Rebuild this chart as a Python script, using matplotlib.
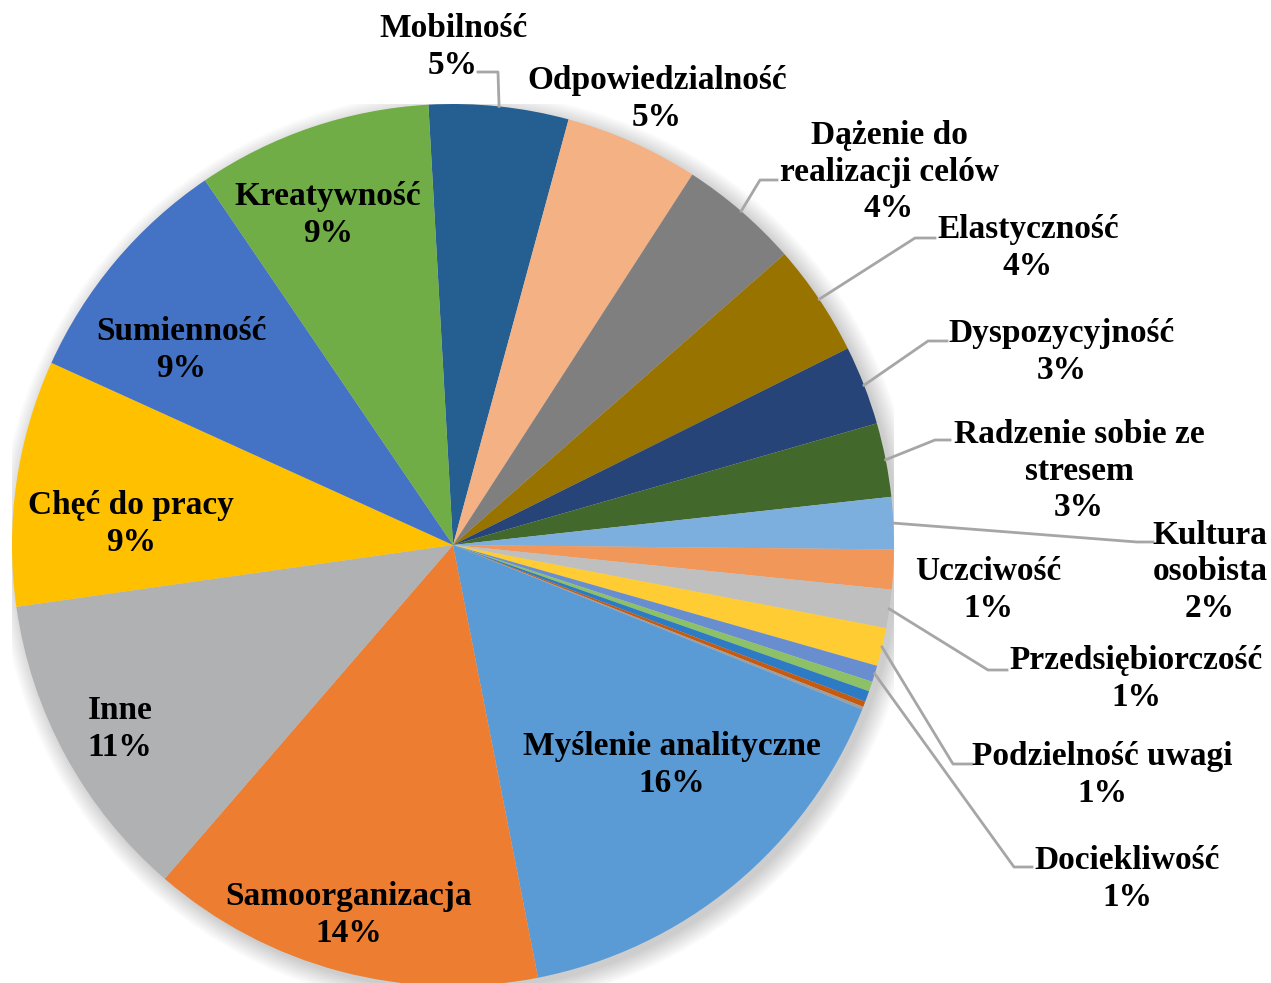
import matplotlib
matplotlib.use("Agg")
import numpy as np
import matplotlib.pyplot as plt
from matplotlib.patches import Circle

# dane: udział kompetencji (%), kolejność zgodnie z ruchem wskazówek zegara
names = ["Mobilność", "Odpowiedzialność", "Dążenie do\nrealizacji celów",
         "Elastyczność", "Dyspozycyjność", "Radzenie sobie ze\nstresem",
         "Kultura\nosobista", "Uczciwość", "Przedsiębiorczość",
         "Podzielność uwagi", "Dociekliwość", "", "", "", "",
         "Myślenie analityczne", "Samoorganizacja", "Inne",
         "Chęć do pracy", "Sumienność", "Kreatywność"]
values = [5.1, 4.9, 4.4, 4.1, 2.9, 2.7, 1.9, 1.45, 1.4, 1.4, 0.6,
          0.36, 0.4, 0.2, 0.1, 15.8, 14.4, 11.4, 9.0, 8.7, 8.6]
colors = ["#255E91", "#F4B183", "#7F7F7F", "#997300", "#264478", "#43682B",
          "#7CAFDD", "#F1975A", "#BFBFBF", "#FFCD33", "#698ED0", "#8CC168",
          "#2E7BC5", "#C55A11", "#9E9E9E", "#5B9BD5", "#ED7D31", "#B0B1B3",
          "#FFC000", "#4472C4", "#70AD47"]

# położenie etykiet w pikselach (środek bloku tekstu), łamane linii odniesienia
label_pos = [(453, 47), (657, 99), (889, 172), (1028, 248), (1062, 352),
             (1079, 471), (1210, 572), (988, 590), (1136, 679), (1102, 775),
             (1127, 879), None, None, None, None, (672, 765), (349, 915),
             (120, 729), (131, 524), (181, 350), (328, 215)]
leaders = {0: [(498, 72), (478, 72)], 2: [(760, 180), (777, 180)],
           3: [(915, 238), (935, 238)], 4: [(928, 341), (947, 341)],
           5: [(935, 440), (950, 440)], 6: [(1137, 542), (1153, 542)],
           8: [(988, 670), (1007, 670)], 9: [(953, 764), (972, 764)],
           10: [(1014, 867), (1032, 867)]}

W, H = 1271, 983
CX, CY, R = 453, 545, 441
START = 93.2


def px(x, y):
    return (x - CX) / R, (CY - y) / R


fig = plt.figure(figsize=(W / 100, H / 100), dpi=100)
ax = fig.add_axes([(CX - R) / W, (H - CY - R) / H, 2 * R / W, 2 * R / H])

# miękki cień pod wykresem
for i in range(10):
    ax.add_patch(Circle((0.012, -0.012), 1 + 0.0045 * i, color="black",
                        alpha=0.018, lw=0, zorder=0))

wedges, _ = ax.pie(values, colors=colors, startangle=START, counterclock=False,
                   radius=1, wedgeprops=dict(linewidth=0))
for w in wedges:
    w.set_zorder(2)

font = dict(family=["Liberation Serif", "DejaVu Serif"], weight="bold", size=24)
total = sum(values)
angle = START
for i, (name, v) in enumerate(zip(names, values)):
    sweep = v / total * 360
    mid = np.radians(angle - sweep / 2)
    angle -= sweep
    if label_pos[i] is None:
        continue
    tx, ty = px(*label_pos[i])
    ax.text(tx, ty, f"{name}\n{v:.0f}%", ha="center", va="center",
            multialignment="center", linespacing=1.22, color="black",
            zorder=5, clip_on=False, **font)
    if i in leaders:
        pts = [(np.cos(mid), np.sin(mid))] + [px(*p) for p in leaders[i]]
        xs, ys = zip(*pts)
        ax.plot(xs, ys, color="#A6A6A6", lw=2.0, zorder=3, clip_on=False)

ax.set_xlim(-1, 1)
ax.set_ylim(-1, 1)
ax.axis("off")

fig.savefig("out.png", dpi=100)
